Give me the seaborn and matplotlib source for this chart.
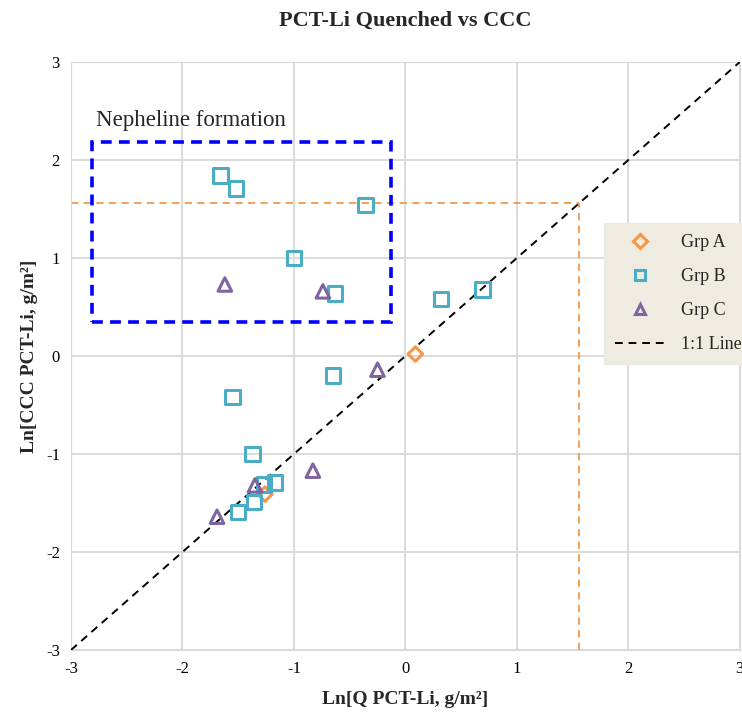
"""
PCT-Li quenched vs CCC scatter, recreated with seaborn.
"""

import matplotlib
matplotlib.use("Agg")
import matplotlib.pyplot as plt
from matplotlib.patches import Rectangle
from matplotlib.lines import Line2D
import seaborn as sns


# Data (ln values)
grp_a_x = [0.09, -1.26]
grp_a_y = [0.02, -1.41]

grp_b_x = [-1.66, -1.52, -0.36, -1.00, -0.63, 0.32, 0.69, -0.65, -1.55,
           -1.37, -1.27, -1.17, -1.36, -1.50]
grp_b_y = [1.84, 1.71, 1.54, 1.00, 0.64, 0.58, 0.68, -0.20, -0.42,
           -1.00, -1.31, -1.29, -1.49, -1.59]

grp_c_x = [-1.62, -0.74, -0.25, -0.83, -1.35, -1.69]
grp_c_y = [0.73, 0.66, -0.14, -1.17, -1.32, -1.64]

line_x = [-3, 3]
threshold = 1.56
nepheline_box = (-2.81, 0.35, -0.13, 2.18)  # x0, y0, x1, y1


def main():
    sns.set_style("whitegrid", {"grid.color": "#D9D9D9", "axes.edgecolor": "#D9D9D9"})
    plt.rcParams["font.family"] = ["Liberation Serif", "DejaVu Serif"]
    plt.rcParams["axes.unicode_minus"] = False

    fig = plt.figure(figsize=(7.42, 7.12), dpi=100)
    ax = fig.add_axes([0.0957, 0.0871, 0.9013, 0.8258])

    groups = [
        ("Grp A", grp_a_x, grp_a_y, "#F79646", "D", 55),
        ("Grp B", grp_b_x, grp_b_y, "#4BACC6", "s", 110),
        ("Grp C", grp_c_x, grp_c_y, "#8064A2", "^", 95),
    ]
    handles = []
    for label, xs, ys, c, m, s in groups:
        sns.scatterplot(x=xs, y=ys, marker=m, s=s, facecolor="none",
                        edgecolor=c, linewidth=2.2, ax=ax, zorder=4)
        handles.append(Line2D([], [], ls="none", marker=m, markersize=7,
                              markerfacecolor="none", markeredgecolor=c,
                              markeredgewidth=2.2, label=label))

    # 1:1 line
    sns.lineplot(x=line_x, y=line_x, color="black", linestyle=(0, (4, 3)),
                 linewidth=1.4, ax=ax, zorder=3)
    handles.append(Line2D([], [], color="black", linestyle=(0, (4, 3)),
                          linewidth=1.4, label="1:1 Line"))

    # Threshold lines
    ax.plot([line_x[0], threshold], [threshold, threshold], color="#F79646",
            linestyle=(0, (4, 3)), linewidth=1.3, zorder=2)
    ax.plot([threshold, threshold], [line_x[0], threshold], color="#F79646",
            linestyle=(0, (4, 3)), linewidth=1.3, zorder=2)

    # Nepheline region
    x0, y0, x1, y1 = nepheline_box
    ax.add_patch(Rectangle((x0, y0), x1 - x0, y1 - y0, fill=False,
                           edgecolor="#0000FF", linewidth=2.6,
                           linestyle=(0, (3, 2)), zorder=3))
    ax.text(x0 + 0.03, y1 + 0.22, "Nepheline formation", fontsize=16.5,
            va="center", ha="left")

    ax.set_xlim(-3, 3)
    ax.set_ylim(-3, 3)
    ax.set_xticks(range(-3, 4))
    ax.set_yticks(range(-3, 4))
    ax.tick_params(labelsize=12, length=0, pad=8, labelcolor="black")
    ax.grid(True, linewidth=1.3)

    ax.set_xlabel("Ln[Q PCT-Li, g/m²]", fontsize=14, fontweight="bold",
                  labelpad=10)
    ax.set_ylabel("Ln[CCC PCT-Li, g/m²]", fontsize=14, fontweight="bold",
                  labelpad=6)
    fig.suptitle("PCT-Li Quenched vs CCC", fontsize=16, fontweight="bold",
                 x=0.546, y=0.985)

    leg = ax.legend(handles=handles, loc="upper left",
                    bbox_to_anchor=(0.797, 0.726), borderaxespad=0,
                    fontsize=13, frameon=True, fancybox=False,
                    facecolor="#EEECE1", edgecolor="#EEECE1", framealpha=1,
                    labelspacing=0.95, handlelength=2.8, handletextpad=0.85,
                    borderpad=0.6)
    leg.set_zorder(10)

    fig.savefig("out.png", dpi=100)


if __name__ == "__main__":
    main()
